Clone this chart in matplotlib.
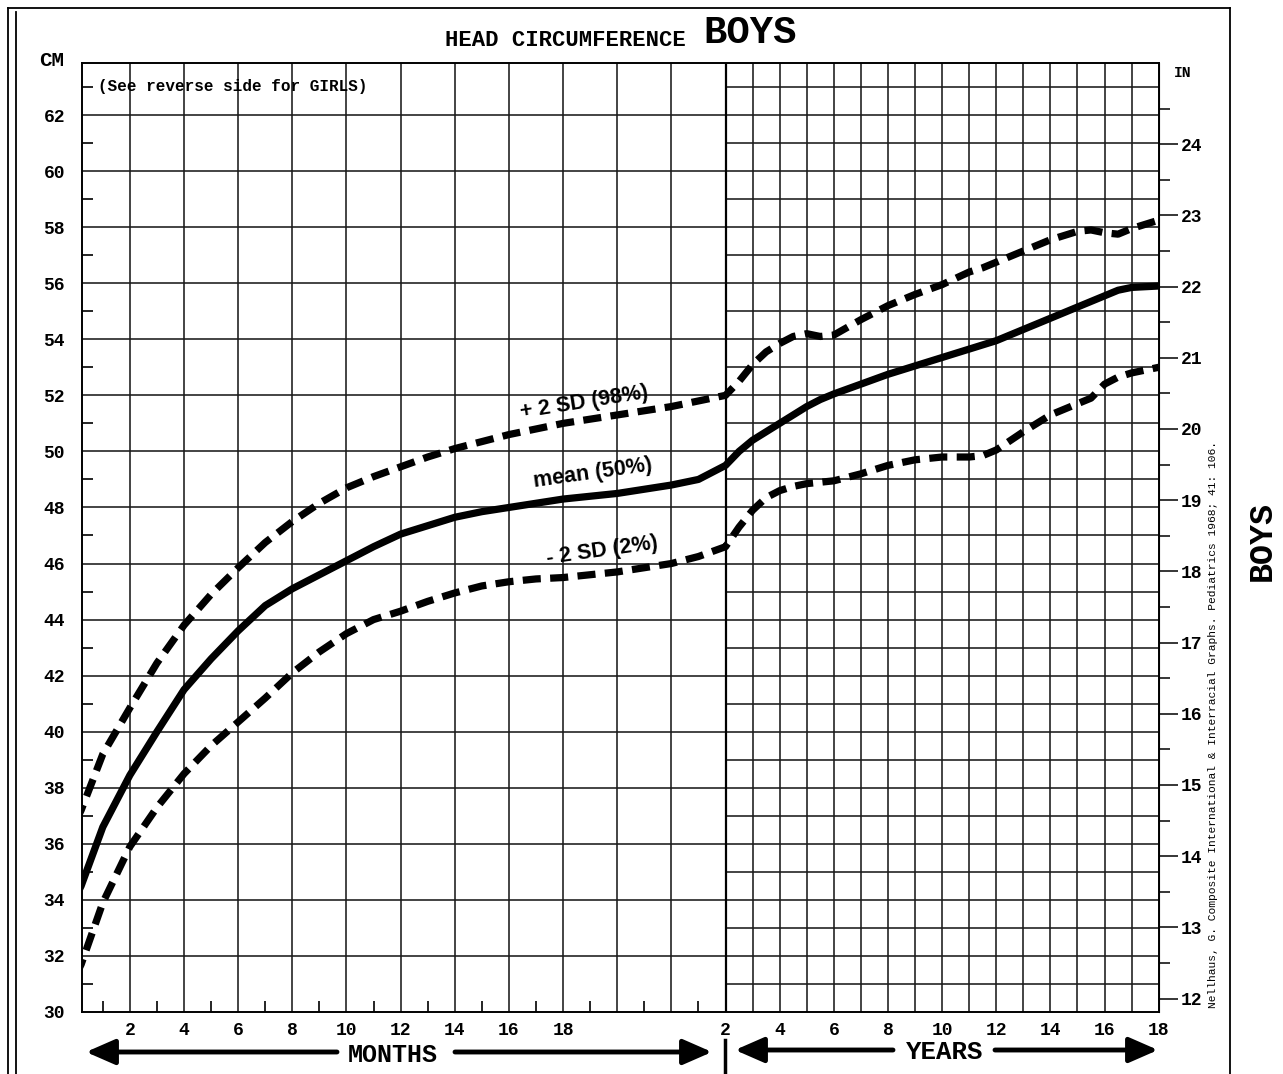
import matplotlib
matplotlib.use('Agg')
import matplotlib.pyplot as plt
from matplotlib.lines import Line2D

# ---------------- data ----------------
month_ages = [0, 0.2, 1, 2, 3, 4, 5, 6, 7, 8, 9, 10, 11, 12, 13, 14, 15, 16,
              17, 18, 19, 20, 21, 22, 23, 24]
mean_months = [34.1, 34.5, 36.6, 38.45, 40.0, 41.5, 42.6, 43.6, 44.5, 45.1, 45.6,
               46.1, 46.6, 47.05, 47.35, 47.65, 47.85, 48.0, 48.15, 48.3, 48.4,
               48.5, 48.65, 48.8, 49.0, 49.5]
plus2_months = [36.8, 37.2, 39.2, 40.85, 42.45, 43.8, 44.9, 45.85, 46.75, 47.5,
                48.15, 48.7, 49.1, 49.45, 49.8, 50.1, 50.35, 50.6, 50.8, 51.0,
                51.15, 51.3, 51.45, 51.6, 51.8, 52.0]
minus2_months = [31.3, 31.7, 33.9, 35.9, 37.3, 38.5, 39.5, 40.35, 41.2, 42.1,
                 42.85, 43.5, 44.0, 44.3, 44.65, 44.95, 45.2, 45.35, 45.45, 45.5,
                 45.6, 45.7, 45.85, 46.0, 46.25, 46.6]

year_ages = [2.5, 3, 3.5, 4, 4.5, 5, 5.5, 6, 7, 8, 9, 10, 11, 11.5, 12, 13, 14,
             15, 15.5, 16, 16.5, 17, 18]
mean_years = [50.0, 50.4, 50.7, 51.0, 51.3, 51.6, 51.85, 52.05, 52.4, 52.75,
              53.05, 53.35, 53.65, 53.8, 53.95, 54.35, 54.75, 55.15, 55.35,
              55.55, 55.75, 55.85, 55.9]
plus2_years = [52.5, 53.1, 53.55, 53.85, 54.1, 54.2, 54.1, 54.15, 54.7, 55.2,
               55.6, 55.95, 56.4, 56.55, 56.75, 57.15, 57.55, 57.85, 57.9, 57.8,
               57.75, 57.95, 58.25]
minus2_years = [47.3, 47.9, 48.35, 48.6, 48.75, 48.85, 48.9, 48.95, 49.2, 49.5,
                49.7, 49.8, 49.8, 49.85, 50.05, 50.7, 51.3, 51.7, 51.9, 52.4,
                52.65, 52.8, 53.0]

cm_ticks = list(range(30, 63, 2))
in_ticks = list(range(12, 25))
month_tick_labels = ['2', '4', '6', '8', '10', '12', '14', '16', '18']
year_tick_labels = ['2', '4', '6', '8', '10', '12', '14', '16', '18']
curve_labels = ['+ 2 SD (98%)', 'mean (50%)', '- 2 SD (2%)']

# ------------- helpers ---------------
def month_pos(m):
    return m

def year_pos(y):
    return 22 + y   # 2 years -> 24 (end of months section)

W, H = 1283, 1074
plt.rcParams['font.family'] = ['Liberation Mono', 'DejaVu Sans Mono']
fig = plt.figure(figsize=(W / 100, H / 100), dpi=100)

X0, X1 = 81.7, 1158.7
YB, YT = 1012, 63
XMIN, XMAX = 0.22, 40
YMIN = 30
YMAX = 30 + (YB - YT) / 28.03
ax = fig.add_axes([X0 / W, (H - YB) / H, (X1 - X0) / W, (YB - YT) / H])
ax.set_xlim(XMIN, XMAX)
ax.set_ylim(YMIN, YMAX)

gkw = dict(color='#1a1a1a', lw=1.15, zorder=1)
# months grid
ax.vlines(range(2, 24, 2), YMIN, YMAX, **gkw)
ax.hlines(range(32, 64, 2), XMIN, 24, **gkw)
# years grid
ax.vlines([year_pos(y) for y in range(3, 18)], YMIN, YMAX, **gkw)
ax.hlines(range(31, 64), 24, XMAX, **gkw)
ax.vlines(24, YMIN, YMAX, color='black', lw=1.6, zorder=1)

# curves
xs = [month_pos(m) for m in month_ages] + [year_pos(y) for y in year_ages]
mean_all = mean_months + mean_years
plus_all = plus2_months + plus2_years
minus_all = minus2_months + minus2_years

ax.plot(xs, mean_all, color='black', lw=5.2, solid_capstyle='butt',
        solid_joinstyle='round', zorder=3)
for ser in (plus_all, minus_all):
    ax.plot(xs, ser, color='black', lw=5.2, linestyle=(0, (2.5, 1.3)),
            dash_capstyle='butt', zorder=3)

# curve labels
lab_kw = dict(family=['Liberation Sans', 'DejaVu Sans'], weight='bold',
              fontsize=15.5, ha='center', va='center', zorder=4)
ax.text(18.78, 51.76, curve_labels[0], rotation=9, **lab_kw)
ax.text(19.11, 49.23, curve_labels[1], rotation=8, **lab_kw)
ax.text(19.44, 46.45, curve_labels[2], rotation=8, **lab_kw)

# axes ticks
for s in ax.spines.values():
    s.set_linewidth(1.4)
ax.set_xticks([month_pos(m) for m in range(2, 19, 2)] +
              [year_pos(y) for y in range(2, 19, 2)])
ax.set_xticklabels(month_tick_labels + year_tick_labels, weight='bold')
ax.set_xticks(range(1, 24, 2), minor=True)
ax.set_yticks(cm_ticks)
ax.set_yticklabels([str(v) for v in cm_ticks], weight='bold')
ax.set_yticks(range(31, 64, 2), minor=True)
ax.tick_params(axis='x', which='major', length=0, pad=7, labelsize=13)
ax.tick_params(axis='y', which='major', length=0, pad=12, labelsize=13)
ax.tick_params(which='minor', direction='in', length=8, width=1.2)
ax.tick_params(right=False, top=False)
ax.tick_params(axis='y', which='minor', right=False)

sec = ax.secondary_yaxis('right', functions=(lambda c: c / 2.54, lambda i: i * 2.54))
sec.set_yticks(in_ticks)
sec.set_yticklabels([str(v) for v in in_ticks], weight='bold')
sec.set_yticks([v + 0.5 for v in in_ticks], minor=True)
sec.tick_params(which='major', length=14, width=1.1, pad=2, labelsize=13)
sec.tick_params(which='minor', length=8, width=1.1)

# figure texts (pixel positions)
def fx(px):
    return px / W

def fy(py):
    return 1 - py / H

fig.text(fx(565), fy(40), 'HEAD CIRCUMFERENCE', fontsize=16, weight='bold',
         ha='center', va='center')
fig.text(fx(750), fy(33), 'BOYS', fontsize=28, weight='bold', ha='center', va='center')
fig.text(fx(52), fy(60), 'CM', fontsize=15, weight='bold', ha='center', va='center')
fig.text(fx(1183), fy(73), 'IN', fontsize=10.5, weight='bold', ha='center', va='center')
fig.text(fx(98), fy(86), '(See reverse side for GIRLS)', fontsize=11.5,
         weight='bold', ha='left', va='center')
fig.text(fx(393), fy(1055), 'MONTHS', fontsize=18, weight='bold', ha='center', va='center')
fig.text(fx(945), fy(1052), 'YEARS', fontsize=18.5, weight='bold', ha='center', va='center')
fig.text(fx(1213), fy(725),
         'Nellhaus, G. Composite International & Interracial Graphs. Pediatrics 1968; 41: 106.',
         fontsize=8.1, rotation=90, ha='center', va='center')
fig.text(fx(1262), fy(541), 'BOYS', fontsize=24, weight='bold', rotation=90,
         ha='center', va='center')

# arrows along bottom
astyle = dict(arrowstyle='-|>,head_length=0.8,head_width=0.35', lw=3.5,
              color='black', mutation_scale=22, shrinkA=0, shrinkB=0)
for tail, tip, yy in [(337, 86, 1052), (455, 712, 1052), (893, 735, 1050), (995, 1158, 1050)]:
    fig.add_artist(matplotlib.patches.FancyArrowPatch(
        (fx(tail), fy(yy)), (fx(tip), fy(yy)), transform=fig.transFigure, **astyle))

# separator under 2-year line
fig.add_artist(Line2D([fx(724.5), fx(724.5)], [fy(1040), fy(1074)],
                      transform=fig.transFigure, color='black', lw=2.5))

# frame
fkw = dict(transform=fig.transFigure, color='black', lw=1.3)
fig.add_artist(Line2D([fx(8), fx(8)], [fy(8), fy(1074)], **fkw))
fig.add_artist(Line2D([fx(16), fx(16)], [fy(12), fy(1074)], **fkw))
fig.add_artist(Line2D([fx(8), fx(1230)], [fy(8), fy(8)], **fkw))
fig.add_artist(Line2D([fx(1230), fx(1230)], [fy(8), fy(1074)], **fkw))

fig.savefig('out.png', dpi=100, facecolor='white')
